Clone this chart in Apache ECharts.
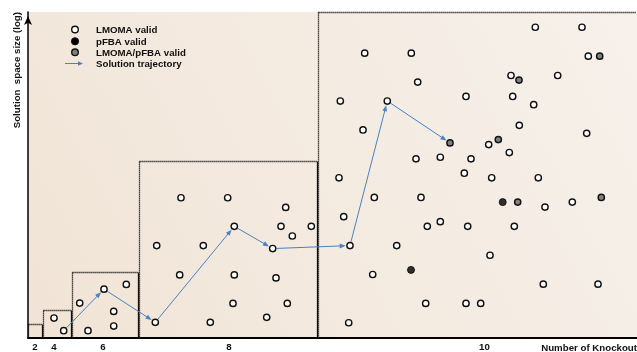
<!DOCTYPE html>
<html>
<head>
<meta charset="utf-8">
<title>Solution space vs knockouts</title>
<script src="https://cdn.jsdelivr.net/npm/echarts@6/dist/echarts.min.js"></script>
<style>
  html, body { margin: 0; padding: 0; background: #ffffff; }
  #chart { width: 637px; height: 352px; }
</style>
</head>
<body>
<div id="chart"></div>
<script>
// Horizontal position is a schematic knockout scale, vertical is log solution-space size (schematic units).
const knockoutTickPos = [7, 26, 75, 201, 456.5];
const knockoutTickLabels = ['2', '4', '6', '8', '10'];

// Nested search regions: left edge, right edge, top for each knockout level
const regionLeft  = [0, 14.7, 43.5, 111.3, 290.3];
const regionRight = [14.7, 43.5, 111.3, 290.3, 609];
const regionTop   = [14, 28, 66.7, 177.7, 327];

// Solutions valid under LMOMA only
const lmomaX = [26, 35.7,
  51.7, 60, 76, 85.7, 85.7, 98.3,
  127.3, 151.7, 182.3, 206.3, 205, 238.7, 248, 259.3, 153, 199.7, 257.7, 128.7, 175.3, 206.3, 253, 264.3, 283.3, 244.7,
  507.3, 554, 336.7, 383.3, 560.3, 483, 529.7, 389.7, 312.3, 359.3, 438, 484.7, 505.7, 491.3, 335, 460.7, 558.7, 481.3,
  388, 412.3, 443, 436.3, 311, 463.7, 510.3, 346.3, 393, 517, 544.3, 315.7, 399.3, 412.3, 439.7, 486.3, 322, 368.7,
  462, 344.7, 515.3, 570, 397.7, 438, 452.7, 320.7];
const lmomaY = [20, 7.3,
  35, 7.3, 49, 26.7, 12, 53.7,
  15.7, 63.3, 15.7, 63.3, 34.7, 20.7, 60.3, 34.7, 140.7, 140.7, 131, 92.7, 92.7, 112, 112, 102.3, 112, 89.7,
  311.7, 311.7, 285.7, 285.7, 282.7, 263.3, 263.3, 256.7, 237.7, 237.7, 242.3, 242.3, 234, 213.3, 208.7, 194, 205.3, 186,
  179.7, 181.3, 179.7, 165.3, 160.7, 160.7, 160.7, 141, 141, 131.3, 136.3, 121.7, 112, 116.7, 112, 112, 92.7, 92.7,
  83, 63.7, 54, 54, 34.7, 34.7, 34.7, 15.3];

// Solutions valid under pFBA only
const pfbaX = [474.7, 383];
const pfbaY = [136.3, 68.3];

// Solutions valid under both LMOMA and pFBA
const bothX = [571.7, 491, 422, 470.3, 489.7, 573.3];
const bothY = [282.7, 258.7, 195.7, 199, 136.3, 141];

// Path followed by the search, in order
const trajX = [35.7, 76, 127.3, 206.3, 244.7, 322, 359.3, 422];
const trajY = [7.3, 49, 15.7, 112, 89.7, 92.7, 237.7, 195.7];

const FONT = '"Liberation Sans", Arial, Helvetica, sans-serif';
const TRAJ_COLOR = '#4a82c3';
const MARK_R = 4;

const zip = (xs, ys) => xs.map((x, i) => [x, ys[i]]);
const regionData = regionLeft.map((x0, i) => [x0, regionRight[i], regionTop[i]]);
const trajSegments = [];
for (let i = 0; i < trajX.length - 1; i++) {
  trajSegments.push([trajX[i], trajY[i], trajX[i + 1], trajY[i + 1]]);
}

function arrowShapes(p, q, startCut, endCut, headLen, headHalf, color) {
  const dx = q[0] - p[0], dy = q[1] - p[1];
  const len = Math.sqrt(dx * dx + dy * dy) || 1;
  const ux = dx / len, uy = dy / len;
  const sx = p[0] + ux * startCut, sy = p[1] + uy * startCut;
  const tx = q[0] - ux * endCut, ty = q[1] - uy * endCut;
  const bx = tx - ux * headLen, by = ty - uy * headLen;
  return [
    { type: 'line', shape: { x1: sx, y1: sy, x2: bx + ux * 1, y2: by + uy * 1 },
      style: { stroke: color, lineWidth: 1 } },
    { type: 'polygon',
      shape: { points: [[tx, ty], [bx - uy * headHalf, by + ux * headHalf], [bx + uy * headHalf, by - ux * headHalf]] },
      style: { fill: color } }
  ];
}

const chart = echarts.init(document.getElementById('chart'), null, { renderer: 'canvas' });

const circleStyle = (fill) => ({ color: fill, borderColor: '#111', borderWidth: 1.4, opacity: 1 });
const dotted = { stroke: '#111', lineWidth: 1.3, lineDash: [1.2, 0.8] };

chart.setOption({
  animation: false,
  grid: {
    left: 28, right: 0, top: 12, bottom: 13,
    show: true, borderWidth: 0,
    backgroundColor: {
      type: 'linear', x: 0, y: 1, x2: 1, y2: 0,
      colorStops: [
        { offset: 0, color: '#f1e4d6' },
        { offset: 1, color: '#f7f1eb' }
      ]
    }
  },
  xAxis: {
    type: 'value', min: 0, max: 609,
    splitLine: { show: false },
    axisTick: { show: false },
    axisLine: { show: true, onZero: false, lineStyle: { color: '#000', width: 2 } },
    axisLabel: {
      customValues: knockoutTickPos,
      margin: 4,
      fontFamily: FONT, fontWeight: 'bold', fontSize: 9.7, color: '#111',
      formatter: (v) => {
        const i = knockoutTickPos.indexOf(v);
        return i >= 0 ? knockoutTickLabels[i] : '';
      }
    }
  },
  yAxis: {
    type: 'value', min: 0, max: 327,
    splitLine: { show: false },
    axisTick: { show: false },
    axisLabel: { show: false },
    axisLine: {
      show: true, onZero: false,
      lineStyle: { color: '#000', width: 1.5 },
      symbol: ['none', 'arrow'], symbolSize: [6, 9], symbolOffset: [0, -4]
    }
  },
  graphic: [
    { type: 'text', x: 17, y: 12, rotation: Math.PI / 2,
      style: { text: 'Solution  space size (log)', font: 'bold 9.7px ' + FONT, fill: '#111',
        align: 'right', verticalAlign: 'middle' } },
    { type: 'text', x: 637, y: 348,
      style: { text: 'Number of Knockout', font: 'bold 9.7px ' + FONT, fill: '#111',
        align: 'right', verticalAlign: 'middle' } },
    // legend
    { type: 'circle', shape: { cx: 75, cy: 29.5, r: 3.3 }, style: { fill: '#fff', stroke: '#111', lineWidth: 1.4 } },
    { type: 'circle', shape: { cx: 75, cy: 41.3, r: 3.6 }, style: { fill: '#000', stroke: '#111', lineWidth: 1 } },
    { type: 'circle', shape: { cx: 75, cy: 52.3, r: 3.3 }, style: { fill: '#808080', stroke: '#111', lineWidth: 1.4 } },
    { type: 'line', shape: { x1: 65, y1: 63.5, x2: 79, y2: 63.5 }, style: { stroke: TRAJ_COLOR, lineWidth: 1 } },
    { type: 'polygon', shape: { points: [[83, 63.5], [78, 61.3], [78, 65.7]] }, style: { fill: TRAJ_COLOR } },
    { type: 'text', x: 96, y: 30.5, style: { text: 'LMOMA valid', font: 'bold 9.7px ' + FONT, fill: '#111', verticalAlign: 'middle' } },
    { type: 'text', x: 96, y: 42, style: { text: 'pFBA valid', font: 'bold 9.7px ' + FONT, fill: '#111', verticalAlign: 'middle' } },
    { type: 'text', x: 96, y: 53.3, style: { text: 'LMOMA/pFBA valid', font: 'bold 9.7px ' + FONT, fill: '#111', verticalAlign: 'middle' } },
    { type: 'text', x: 96, y: 64, style: { text: 'Solution trajectory', font: 'bold 9.7px ' + FONT, fill: '#111', verticalAlign: 'middle' } }
  ],
  series: [
    {
      name: 'Regions', type: 'custom', z: 1, silent: true,
      data: regionData,
      encode: { x: [0, 1], y: 2 },
      renderItem: (params, api) => {
        const a = api.coord([api.value(0), api.value(2)]);
        const b = api.coord([api.value(1), 0]);
        const x0 = Math.round(a[0]) + 0.5, x1 = Math.round(b[0]) - 0.5;
        const yt = Math.round(a[1]) + 0.5, yb = b[1];
        const children = [
          { type: 'line', shape: { x1: x0, y1: yt, x2: x1, y2: yt }, style: dotted },
          { type: 'line', shape: { x1: x0, y1: yt, x2: x0, y2: yb }, style: dotted }
        ];
        if (params.dataIndex < regionData.length - 1) {
          children.push({ type: 'line', shape: { x1: x1, y1: yt, x2: x1, y2: yb },
            style: { stroke: '#111', lineWidth: 1.3 } });
        }
        return { type: 'group', children };
      }
    },
    {
      name: 'Solution trajectory', type: 'custom', z: 2, silent: true,
      data: trajSegments,
      encode: { x: [0, 2], y: [1, 3] },
      renderItem: (params, api) => {
        const p = api.coord([api.value(0), api.value(1)]);
        const q = api.coord([api.value(2), api.value(3)]);
        return { type: 'group', children: arrowShapes(p, q, MARK_R, MARK_R + 0.3, 6, 2.4, TRAJ_COLOR) };
      }
    },
    {
      name: 'LMOMA valid', type: 'scatter', z: 3,
      symbol: 'circle', symbolSize: 6.3,
      itemStyle: circleStyle('#ffffff'),
      data: zip(lmomaX, lmomaY)
    },
    {
      name: 'pFBA valid', type: 'scatter', z: 3,
      symbol: 'circle', symbolSize: 7,
      itemStyle: { color: '#000', borderColor: '#000', borderWidth: 1 },
      data: zip(pfbaX, pfbaY)
    },
    {
      name: 'LMOMA/pFBA valid', type: 'scatter', z: 3,
      symbol: 'circle', symbolSize: 6.3,
      itemStyle: circleStyle('#808080'),
      data: zip(bothX, bothY)
    }
  ]
});
</script>
</body>
</html>
